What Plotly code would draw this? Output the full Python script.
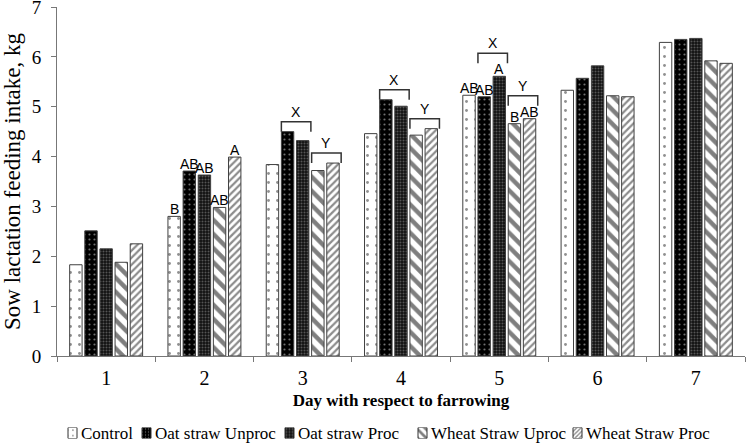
import plotly.graph_objects as go

days = ["1", "2", "3", "4", "5", "6", "7"]
series_names = ["Control", "Oat straw Unproc", "Oat straw Proc", "Wheat Straw Uproc", "Wheat Straw Proc"]
control = [1.83, 2.80, 3.84, 4.46, 5.23, 5.33, 6.29]
oat_unproc = [2.51, 3.71, 4.50, 5.14, 5.20, 5.57, 6.35]
oat_proc = [2.15, 3.63, 4.32, 5.01, 5.61, 5.82, 6.37]
wheat_uproc = [1.88, 2.98, 3.72, 4.43, 4.66, 5.22, 5.92]
wheat_proc = [2.25, 3.99, 3.87, 4.56, 4.76, 5.20, 5.87]
values = [control, oat_unproc, oat_proc, wheat_uproc, wheat_proc]

letters = {"2": ["B", "AB", "AB", "AB", "A"], "5": ["AB", "AB", "A", "B", "AB"]}
bracket_days = ["3", "4", "5"]
bracket_groups = [("X", [1, 2]), ("Y", [3, 4])]

patterns = [
    dict(shape=".", bgcolor="white", fgcolor="#222222", size=9, solidity=0.08, fillmode="overlay"),
    dict(shape=".", bgcolor="black", fgcolor="#dddddd", size=5, solidity=0.15, fillmode="overlay"),
    dict(shape=".", bgcolor="#111111", fgcolor="#9a9a9a", size=3, solidity=0.35, fillmode="overlay"),
    dict(shape="\\", bgcolor="white", fgcolor="black", size=10, solidity=0.45, fillmode="overlay"),
    dict(shape="/", bgcolor="white", fgcolor="#1a1a1a", size=5, solidity=0.45, fillmode="overlay"),
]
colors = ["white", "black", "#111111", "white", "white"]

W, H = 750, 445
PLOT_L, PLOT_R, PLOT_T, PLOT_B = 57, 745, 7, 356
BARGAP = 0.23
serif = "Liberation Serif, Times New Roman, serif"
sans = "Liberation Sans, Arial, sans-serif"

fig = go.Figure()
for name, vals, pat, col in zip(series_names, values, patterns, colors):
    fig.add_trace(go.Bar(
        x=days, y=vals, name=name, showlegend=False,
        marker=dict(color=col, pattern=pat, line=dict(color="#404040", width=1)),
    ))

n = len(series_names)
slot = (1 - BARGAP) / n
barw = slot * (1 - 0.18)


def center(day, i):
    return days.index(day) - (1 - BARGAP) / 2 + slot * (i + 0.5)


anns = []
lfont = dict(family=sans, size=14, color="black")
for day, labs in letters.items():
    di = days.index(day)
    for i, lab in enumerate(labs):
        anns.append(dict(x=center(day, i), y=values[i][di], xref="x", yref="y",
                         text=lab, showarrow=False, yanchor="bottom", font=lfont, yshift=-2,
                         borderpad=0))

shapes = []
for day in bracket_days:
    di = days.index(day)
    has_letters = day in letters
    for lab, idxs in bracket_groups:
        top = max(values[i][di] for i in idxs)
        level = top + (0.46 if has_letters else 0.2)
        end = level - 0.2
        x0 = center(day, idxs[0]) - barw / 2
        x1 = center(day, idxs[-1]) + barw / 2 + 0.02
        shapes.append(dict(type="path", xref="x", yref="y",
                           path=f"M {x0},{end} L {x0},{level} L {x1},{level} L {x1},{end}",
                           line=dict(color="#333333", width=1.5)))
        anns.append(dict(x=(x0 + x1) / 2, y=level, xref="x", yref="y", text=lab,
                         showarrow=False, yanchor="bottom", font=lfont, yshift=0))

# manual legend (swatches drawn as patterned bars on a pixel-scaled helper axis)
legend_sw_left = [68, 142, 285, 418, 573]
SW_W = 9
legend_y = 433
for name, pat, col, xl in zip(series_names, patterns, colors, legend_sw_left):
    fig.add_trace(go.Bar(
        x=[xl], y=[1], base=0, width=SW_W, offset=0, xaxis="x2", yaxis="y2",
        showlegend=False, hoverinfo="skip",
        marker=dict(color=col, pattern=dict(pat, size=max(3, pat["size"] * 0.6)),
                    line=dict(color="#303030", width=1)),
    ))
    anns.append(dict(x=(xl + SW_W + 2) / W, y=(H - legend_y) / H, xref="paper", yref="paper",
                     text=name, showarrow=False, xanchor="left", yanchor="middle",
                     font=dict(family=serif, size=17, color="black")))

fig.update_layout(
    barmode="group", bargap=BARGAP, bargroupgap=0.18,
    width=W, height=H,
    margin=dict(l=0, r=0, t=0, b=0, autoexpand=False),
    plot_bgcolor="white", paper_bgcolor="white",
    font=dict(family=serif, size=15, color="black"),
    annotations=anns, shapes=shapes, showlegend=False,
    xaxis=dict(type="category", domain=[PLOT_L / W, PLOT_R / W], anchor="y", automargin=False,
               tickson="boundaries", ticks="outside", ticklen=5,
               tickcolor="#777777", showline=True, linecolor="#777777", linewidth=1,
               showgrid=False, ticklabelstandoff=4,
               title=dict(text="<b>Day with respect to farrowing</b>",
                          font=dict(family=serif, size=17), standoff=6),
               tickfont=dict(family=serif, size=20)),
    yaxis=dict(range=[0, 7], dtick=1, domain=[(H - PLOT_B) / H, (H - PLOT_T) / H], anchor="x",
               automargin=False, ticklabeloverflow="allow",
               ticks="outside", ticklen=5, tickcolor="#777777",
               showline=True, linecolor="#777777", linewidth=1, showgrid=False, zeroline=False,
               ticklabelstandoff=6,
               title=dict(text="Sow lactation feeding intake, kg", font=dict(family=serif, size=23),
                          standoff=4),
               tickfont=dict(family=serif, size=19)),
    xaxis2=dict(domain=[0, 1], range=[0, W], visible=False, anchor="y2", fixedrange=True,
                automargin=False),
    yaxis2=dict(domain=[(H - legend_y - 5.5) / H, (H - legend_y + 5.5) / H], range=[0, 1],
                visible=False, anchor="x2", fixedrange=True, automargin=False),
)
fig.write_html("out.html", config={"displayModeBar": False},
               post_script="document.body.style.margin='0';")
